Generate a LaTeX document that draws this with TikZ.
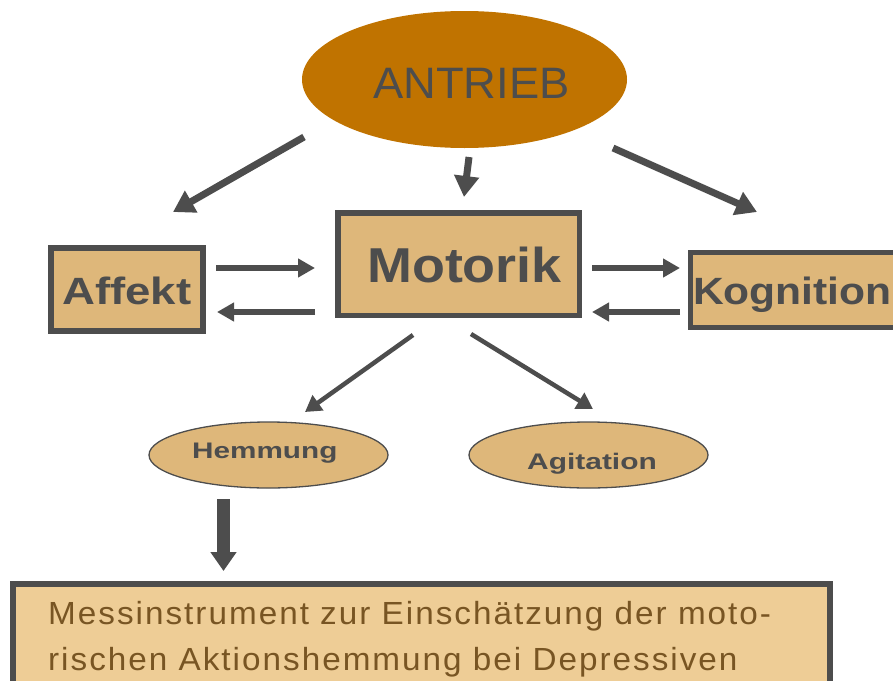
\documentclass[tikz,border=0pt]{standalone}
\usepackage{fontspec}
\setmainfont{Liberation Sans}
\newfontfamily\messfont[LetterSpace=6]{Liberation Sans}
\usepackage{graphicx}
\usetikzlibrary{arrows.meta,shapes.geometric}
\definecolor{dk}{HTML}{4D4D4D}
\definecolor{antr}{HTML}{C07300}
\definecolor{tanfill}{HTML}{DEB77A}
\definecolor{tanlt}{HTML}{EECD96}
\definecolor{brn}{HTML}{785523}
\newcommand{\hsc}[2]{\scalebox{#1}[1]{#2}}
\begin{document}
\begin{tikzpicture}[x=1pt,y=-1pt,
  box/.style={draw=dk,fill=tanfill,line width=5.5pt,inner sep=0pt,rectangle},
  oval/.style={ellipse,draw=dk,fill=tanfill,line width=1.3pt,inner sep=0pt},
  lbl/.style={anchor=base west,inner sep=0pt,text=dk},
  bigarrow/.style={draw=dk,line width=7pt,-{Triangle[length=21pt,width=24pt]}},
  midarrow/.style={draw=dk,line width=5.5pt,-{Triangle[length=17pt,width=18pt]}},
  smallarrow/.style={draw=dk,line width=4.5pt,-{Triangle[length=16pt,width=18pt]}},
  downarrow/.style={draw=dk,line width=13pt,-{Triangle[length=19pt,width=25pt]}}]
\clip (0,0) rectangle (893,680);
% shapes
\node[ellipse,fill=antr,inner sep=0pt,minimum width=325,minimum height=137] (antrieb) at (464.5,79.5) {};
\node[box,minimum width=152,minimum height=83] (affekt) at (127,289.5) {};
\node[box,minimum width=241.5,minimum height=102.5] (motorik) at (458.5,264) {};
\node[box,minimum width=214.5,minimum height=75] (kognition) at (797.75,290) {};
\node[oval,minimum width=239,minimum height=66] (hemmung) at (268.5,455) {};
\node[oval,minimum width=239,minimum height=66] (agitation) at (588.5,455) {};
\node[box,fill=tanlt,minimum width=817,minimum height=126] (mess) at (421.5,647) {};
% texts
\node[lbl] (tantrieb) at (373,98) {\fontsize{44}{48}\selectfont\hsc{1.03}{ANTRIEB}};
\node[lbl] (tmotorik) at (367,282) {\fontsize{49}{52}\selectfont\bfseries\hsc{1.10}{Motorik}};
\node[lbl] (taffekt) at (62,304) {\fontsize{38}{40}\selectfont\bfseries\hsc{1.2}{Affekt}};
\node[lbl] (tkognition) at (693,304) {\fontsize{38}{40}\selectfont\bfseries\hsc{1.12}{Kognition}};
\node[lbl] (themmung) at (192,458) {\fontsize{22.5}{24}\selectfont\bfseries\hsc{1.32}{Hemmung}};
\node[lbl] (tagitation) at (527,469) {\fontsize{22.5}{24}\selectfont\bfseries\hsc{1.33}{Agitation}};
\node[lbl,text=brn] (tmess1) at (48,624) {\messfont\fontsize{32}{34}\selectfont\hsc{1.04}{Messinstrument zur Einschätzung der moto-}};
\node[lbl,text=brn] (tmess2) at (48,670) {\messfont\fontsize{32}{34}\selectfont\hsc{1.04}{rischen Aktionshemmung bei Depressiven}};
% connector end points
\coordinate (a1s) at (304,137); \coordinate (a1e) at (173,212);
\coordinate (a2s) at (469,157); \coordinate (a2e) at (464,197);
\coordinate (a3s) at (613,148); \coordinate (a3e) at (757,212);
\coordinate (h1s) at (216,268); \coordinate (h1e) at (315,268);
\coordinate (h2s) at (315,312); \coordinate (h2e) at (217,312);
\coordinate (h3s) at (592,268); \coordinate (h3e) at (680,268);
\coordinate (h4s) at (680,312); \coordinate (h4e) at (592,312);
\coordinate (m1s) at (413,335); \coordinate (m1e) at (305,412);
\coordinate (m2s) at (471,334); \coordinate (m2e) at (593,409);
\coordinate (d1s) at (223.5,499); \coordinate (d1e) at (223.5,571);
% connectors
\draw[bigarrow] (a1s) -- (a1e);
\draw[bigarrow] (a2s) -- (a2e);
\draw[bigarrow] (a3s) -- (a3e);
\draw[midarrow] (h1s) -- (h1e);
\draw[midarrow] (h2s) -- (h2e);
\draw[midarrow] (h3s) -- (h3e);
\draw[midarrow] (h4s) -- (h4e);
\draw[smallarrow] (m1s) -- (m1e);
\draw[smallarrow] (m2s) -- (m2e);
\draw[downarrow] (d1s) -- (d1e);
\end{tikzpicture}
\end{document}
